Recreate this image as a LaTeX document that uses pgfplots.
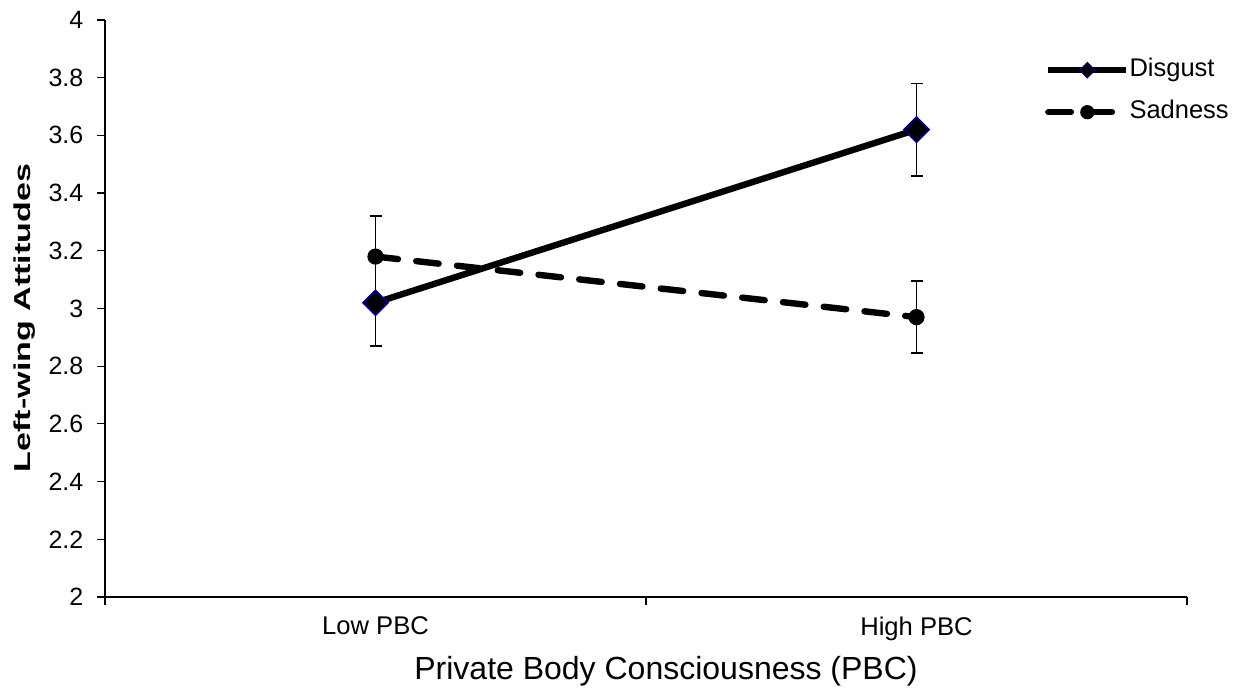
\documentclass[border=0pt]{standalone}
\usepackage{pgfplots}
\pgfplotsset{compat=1.18}
\usepackage{fontspec}
\setmainfont{Liberation Sans}
\definecolor{navyb}{RGB}{0,0,128}
\begin{document}
\begin{tikzpicture}
\begin{axis}[
  name=ax,
  scale only axis, width=541pt, height=288.5pt,
  xmin=0, xmax=2, ymin=2, ymax=4,
  axis lines=left, axis line style={-, line width=0.6pt, black},
  tick align=outside, major tick length=4pt, tick style={line width=0.6pt, black},
  /pgf/number format/assume math mode=true,
  xtick={0,1,2}, xticklabels={},
  extra x ticks={0.5,1.5}, extra x tick labels={Low PBC, High PBC},
  extra x tick style={tick style={draw=none}},
  xticklabel style={font=\fontsize{12.8}{15}\selectfont, yshift=-2.3pt},
  ytick={2,2.2,2.4,2.6,2.8,3,3.2,3.4,3.6,3.8,4},
  yticklabel style={font=\fontsize{12.5}{15}\selectfont, xshift=-3.3pt},
  xlabel={Private Body Consciousness (PBC)},
  xlabel style={at={(axis description cs:0.5185,-0.1438)}, anchor=base, font=\fontsize{16}{19}\selectfont},
  ylabel={\scalebox{1.48}[1]{Left-wing Attitudes}},
  ylabel style={at={(axis description cs:-0.0693,0.4835)}, anchor=base, font=\bfseries\fontsize{11.5}{14}\selectfont},
  legend style={at={(axis description cs:0.8685,0.9345)}, anchor=north west, draw=none, fill=none,
    font=\fontsize{12.75}{15}\selectfont, row sep=9pt, inner sep=0pt,
    nodes={inner sep=0pt, text height=9pt, text depth=3pt}},
  legend cell align=left,
  legend image code/.code={\draw[#1, mark repeat=2, mark phase=2] plot coordinates {(0pt,0pt) (19.5pt,0pt) (39pt,0pt)};},
  /tikz/every even column/.append style={column sep=0.5pt},
]
\addplot[black, line width=3.2pt, mark=square*, mark size=4.4pt,
  mark options={rotate=45, fill=black, draw=navyb, line width=0.9pt},
  legend image post style={mark size=2.7pt, mark options={rotate=45, fill=black, draw=navyb, line width=0.6pt}},
  error bars/.cd, y dir=both, y explicit,
  error bar style={line width=0.9pt, black, solid},
  error mark options={rotate=90, mark size=3pt, line width=0.9pt, black, solid}]
  coordinates {(0.5,3.02) +- (0,0.15) (1.5,3.62) +- (0,0.16)};
\addplot[black, line width=3.2pt, line cap=round, dash pattern=on 11.3pt off 9.2pt,
  mark=*, mark size=3.8pt, mark options={solid, fill=black, draw=black, line width=0.5pt},
  legend image post style={mark size=3.3pt},
  error bars/.cd, y dir=both, y explicit,
  error bar style={line width=0.9pt, black, solid},
  error mark options={rotate=90, mark size=3pt, line width=0.9pt, black, solid}]
  coordinates {(0.5,3.18) +- (0,0.14) (1.5,2.97) +- (0,0.125)};
\legend{Disgust, Sadness}
\end{axis}
\pgfresetboundingbox
\useasboundingbox ([shift={(-52.5pt,-45.5pt)}]ax.south west) rectangle ([shift={(24.5pt,10pt)}]ax.north east);
\end{tikzpicture}
\end{document}
